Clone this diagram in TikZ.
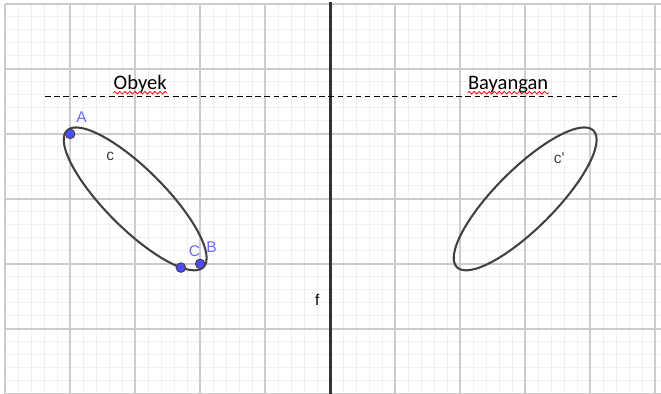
\documentclass[tikz,border=0pt]{standalone}
\usepackage{fontspec}
\setmainfont{Carlito}
\newfontfamily\ggbfont{Liberation Sans}
\usetikzlibrary{decorations.pathmorphing}
\definecolor{titikbiru}{RGB}{77,77,255}
\definecolor{labelbiru}{RGB}{105,105,255}
\newcommand{\titik}[1]{\foreach \p in {#1} \filldraw[fill=titikbiru,draw=black!75,line width=0.4pt] (\p) circle (2.1pt);}

\begin{document}
\begin{tikzpicture}[
  kurva/.style={black!75,line width=0.9pt},
  sumbu/.style={black!80,line width=1.2pt},
  lbl/.style={font=\ggbfont\fontsize{6.8}{8}\selectfont},
  judul/.style={font=\fontsize{9}{11}\selectfont,inner sep=0pt,anchor=base},
  salah/.style={red,line width=0.35pt,decorate,decoration={snake,amplitude=0.55pt,segment length=2.2pt}}]
  \useasboundingbox (-5.08,-2) rectangle (5.09,4.06);
  \draw[black!6,line width=0.4pt,step=0.2] (-5,-2) grid (5.09,4);
  \draw[black!20,line width=0.8pt,step=1] (-5,-2) grid (5.09,4);

  \coordinate (A)  at (-4,2);
  \coordinate (B)  at (-2,0);
  \coordinate (C)  at (-2.297,-0.057);
  \coordinate (M)  at (-3,1);
  \coordinate (M1) at (3,1);
  \coordinate (F1) at (0,4.03);
  \coordinate (F2) at (0,-2);
  \coordinate (D1) at (-4.385,2.57);
  \coordinate (D2) at (4.415,2.57);

  \draw[sumbu] (F1) -- (F2);
  \draw[black,line width=0.45pt,dash pattern=on 2.4pt off 1.6pt] (D1) -- (D2);
  \draw[kurva,rotate around={-45:(M)}] (M) ellipse (1.486 and 0.456);
  \draw[kurva,rotate around={45:(M1)}] (M1) ellipse (1.486 and 0.456);

  \titik{A,B,C}
  \node[lbl,labelbiru,above right,xshift=-0.8pt,yshift=1.6pt] (lA) at (A) {A};
  \node[lbl,labelbiru,above right,xshift=-0.8pt,yshift=1.3pt] (lB) at (B) {B};
  \node[lbl,labelbiru,above right,yshift=1.3pt]               (lC) at (C) {C};
  \node[lbl,black!75] (lc)  at (-3.385,1.651) {c};
  \node[lbl,black!75] (lc1) at (3.523,1.631)  {c'};
  \node[lbl,black]    (lf)  at (-0.2,-0.554)  {f};

  \node[judul] (tObyek)    at (-2.923,2.69) {Obyek};
  \node[judul] (tBayangan) at (2.738,2.69)  {Bayangan};
  \draw[salah] ([yshift=-1.6pt]tObyek.base west) -- ([yshift=-1.6pt]tObyek.base east);
  \draw[salah] ([yshift=-1.6pt]tBayangan.base west) -- ([yshift=-1.6pt]tBayangan.base east);
\end{tikzpicture}
\end{document}
